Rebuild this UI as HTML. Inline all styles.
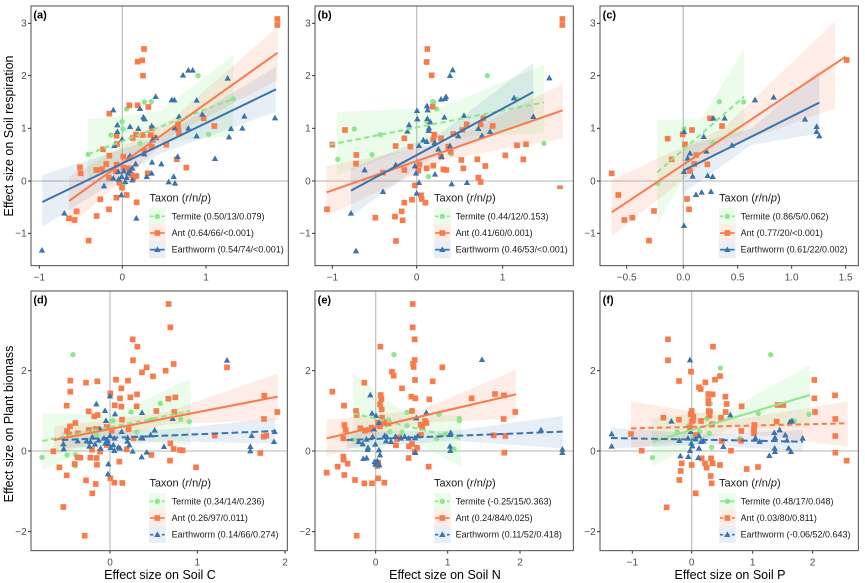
<!DOCTYPE html>
<html><head><meta charset="utf-8"><style>
html,body{margin:0;padding:0;background:#fff;}
svg{display:block;font-family:"Liberation Sans",Arial,sans-serif;}
</style></head><body>
<svg width="865" height="583" viewBox="0 0 865 583" xmlns="http://www.w3.org/2000/svg">
<defs>
<circle id="c" r="8" fill="#8EE68E"/>
<rect id="s" x="-8.5" y="-8.5" width="17" height="17" fill="#F97B4B"/>
<path id="t" d="M0,-10 L9.5,7 L-9.5,7Z" fill="#3A73AD"/>
</defs>
<rect width="865" height="583" fill="#fff"/>

<!-- ===== Panel (a) ===== -->
<g transform="translate(0,0) scale(0.333333)">
<line x1="367" y1="18" x2="367" y2="797" stroke="#C4C4C4" stroke-width="4"/>
<line x1="93" y1="543" x2="865" y2="543" stroke="#C4C4C4" stroke-width="4"/>
<polygon points="263,358 480,335 700,165 700,410 480,425 263,545" fill="#90EE90" fill-opacity="0.18"/>
<polygon points="207,530 520,355 833,80 833,240 520,405 207,680" fill="#F97B4B" fill-opacity="0.14"/>
<polygon points="127,525 478,412 828,200 828,335 478,462 127,680" fill="#3A73AD" fill-opacity="0.12"/>
<g>
<use href="#c" x="264" y="463"/><use href="#c" x="333" y="405"/><use href="#c" x="366" y="365"/><use href="#c" x="369" y="387"/><use href="#c" x="380" y="327"/><use href="#c" x="433" y="306"/><use href="#c" x="454" y="305"/><use href="#c" x="594" y="227"/><use href="#c" x="700" y="297"/><use href="#c" x="626" y="403"/><use href="#c" x="420" y="430"/><use href="#c" x="411" y="530"/><use href="#c" x="373" y="550"/>
</g>
<g>
<use href="#s" x="832" y="57"/><use href="#s" x="832" y="75"/><use href="#s" x="432" y="147"/><use href="#s" x="413" y="185"/><use href="#s" x="427" y="181"/><use href="#s" x="429" y="227"/><use href="#s" x="413" y="316"/><use href="#s" x="388" y="316"/><use href="#s" x="445" y="321"/><use href="#s" x="328" y="341"/><use href="#s" x="611" y="355"/><use href="#s" x="643" y="378"/><use href="#s" x="534" y="373"/><use href="#s" x="535" y="390"/><use href="#s" x="456" y="385"/><use href="#s" x="452" y="405"/><use href="#s" x="428" y="405"/><use href="#s" x="408" y="404"/><use href="#s" x="398" y="414"/><use href="#s" x="350" y="407"/><use href="#s" x="351" y="432"/><use href="#s" x="309" y="448"/><use href="#s" x="328" y="467"/><use href="#s" x="319" y="492"/><use href="#s" x="306" y="508"/><use href="#s" x="240" y="502"/><use href="#s" x="242" y="520"/><use href="#s" x="289" y="510"/><use href="#s" x="327" y="533"/><use href="#s" x="350" y="494"/><use href="#s" x="370" y="503"/><use href="#s" x="386" y="505"/><use href="#s" x="394" y="525"/><use href="#s" x="400" y="534"/><use href="#s" x="409" y="528"/><use href="#s" x="358" y="548"/><use href="#s" x="366" y="563"/><use href="#s" x="380" y="585"/><use href="#s" x="349" y="593"/><use href="#s" x="301" y="598"/><use href="#s" x="327" y="628"/><use href="#s" x="410" y="607"/><use href="#s" x="230" y="634"/><use href="#s" x="207" y="655"/><use href="#s" x="224" y="660"/><use href="#s" x="290" y="648"/><use href="#s" x="266" y="722"/><use href="#s" x="433" y="452"/><use href="#s" x="455" y="440"/><use href="#s" x="443" y="520"/><use href="#s" x="499" y="434"/><use href="#s" x="559" y="503"/><use href="#s" x="530" y="478"/><use href="#s" x="537" y="400"/><use href="#s" x="464" y="413"/><use href="#s" x="348" y="515"/><use href="#s" x="370" y="470"/>
</g>
<g>
<use href="#t" x="126" y="751"/><use href="#t" x="193" y="640"/><use href="#t" x="409" y="655"/><use href="#t" x="340" y="330"/><use href="#t" x="352" y="375"/><use href="#t" x="352" y="395"/><use href="#t" x="366" y="418"/><use href="#t" x="343" y="437"/><use href="#t" x="390" y="380"/><use href="#t" x="415" y="386"/><use href="#t" x="420" y="326"/><use href="#t" x="430" y="352"/><use href="#t" x="434" y="357"/><use href="#t" x="467" y="290"/><use href="#t" x="515" y="300"/><use href="#t" x="523" y="300"/><use href="#t" x="549" y="226"/><use href="#t" x="565" y="211"/><use href="#t" x="578" y="211"/><use href="#t" x="590" y="301"/><use href="#t" x="607" y="343"/><use href="#t" x="683" y="235"/><use href="#t" x="687" y="411"/><use href="#t" x="693" y="386"/><use href="#t" x="727" y="385"/><use href="#t" x="733" y="349"/><use href="#t" x="825" y="354"/><use href="#t" x="645" y="476"/><use href="#t" x="524" y="384"/><use href="#t" x="537" y="350"/><use href="#t" x="456" y="487"/><use href="#t" x="455" y="520"/><use href="#t" x="484" y="492"/><use href="#t" x="506" y="546"/><use href="#t" x="521" y="530"/><use href="#t" x="525" y="550"/><use href="#t" x="533" y="470"/><use href="#t" x="468" y="413"/><use href="#t" x="455" y="378"/><use href="#t" x="407" y="492"/><use href="#t" x="390" y="512"/><use href="#t" x="385" y="475"/><use href="#t" x="371" y="513"/><use href="#t" x="365" y="530"/><use href="#t" x="355" y="515"/><use href="#t" x="356" y="538"/><use href="#t" x="364" y="585"/><use href="#t" x="384" y="520"/><use href="#t" x="397" y="540"/><use href="#t" x="380" y="533"/><use href="#t" x="376" y="545"/><use href="#t" x="397" y="505"/><use href="#t" x="390" y="468"/><use href="#t" x="433" y="462"/><use href="#t" x="457" y="420"/><use href="#t" x="312" y="558"/><use href="#t" x="340" y="535"/><use href="#t" x="440" y="530"/><use href="#t" x="565" y="385"/><use href="#t" x="590" y="408"/>
</g>
<line x1="264" y1="463" x2="700" y2="296" stroke="#8EE68E" stroke-width="6" stroke-dasharray="16,10"/>
<line x1="207" y1="603" x2="833" y2="158" stroke="#F97B4B" stroke-width="6"/>
<line x1="127" y1="606" x2="828" y2="268" stroke="#3A73AD" stroke-width="6"/>
<!-- legend -->
<rect x="440" y="567" width="418" height="213" fill="#fff"/>
<text x="448" y="604" font-size="33" fill="#1a1a1a">Taxon (<tspan font-style="italic">r</tspan>/n/<tspan font-style="italic">p</tspan>)</text>
<rect x="447" y="624" width="50" height="50" fill="#90EE90" fill-opacity="0.18"/>
<rect x="447" y="674" width="50" height="50" fill="#F97B4B" fill-opacity="0.14"/>
<rect x="447" y="724" width="50" height="50" fill="#3A73AD" fill-opacity="0.12"/>
<line x1="450" y1="649" x2="494" y2="649" stroke="#8EE68E" stroke-width="5" stroke-dasharray="10,8"/><use href="#c" x="472" y="649"/>
<line x1="450" y1="699" x2="494" y2="699" stroke="#F97B4B" stroke-width="5"/><use href="#s" x="472" y="699"/>
<line x1="450" y1="749" x2="494" y2="749" stroke="#3A73AD" stroke-width="5"/><use href="#t" x="472" y="749"/>
<text x="515" y="658" font-size="27" fill="#1a1a1a">Termite (0.50/13/0.079)</text>
<text x="515" y="708" font-size="27" fill="#1a1a1a">Ant (0.64/66/&lt;0.001)</text>
<text x="515" y="758" font-size="27" fill="#1a1a1a">Earthworm (0.54/74/&lt;0.001)</text>
<!-- axes -->
<rect x="93" y="18" width="772" height="779" fill="none" stroke="#4d4d4d" stroke-width="3"/>
<g stroke="#333" stroke-width="3">
<line x1="118" y1="797" x2="118" y2="806"/><line x1="367" y1="797" x2="367" y2="806"/><line x1="618" y1="797" x2="618" y2="806"/>
<line x1="84" y1="70" x2="93" y2="70"/><line x1="84" y1="227" x2="93" y2="227"/><line x1="84" y1="385" x2="93" y2="385"/><line x1="84" y1="543" x2="93" y2="543"/><line x1="84" y1="700" x2="93" y2="700"/>
</g>
<g font-size="30" fill="#4D4D4D" text-anchor="middle">
<text x="118" y="841">−1</text><text x="367" y="841">0</text><text x="618" y="841">1</text>
</g>
<g font-size="30" fill="#4D4D4D" text-anchor="end">
<text x="80" y="80">3</text><text x="80" y="237">2</text><text x="80" y="395">1</text><text x="80" y="553">0</text><text x="80" y="710">−1</text>
</g>
<text x="100" y="56" font-size="33" font-weight="bold" fill="#000">(a)</text>
</g>

<!-- ===== Panel (b) ===== -->
<g transform="translate(290,0) scale(0.333333)">
<line x1="380" y1="18" x2="380" y2="797" stroke="#C4C4C4" stroke-width="4"/>
<line x1="75" y1="543" x2="850" y2="543" stroke="#C4C4C4" stroke-width="4"/>
<polygon points="140,336 451,323 762,195 762,400 451,413 140,527" fill="#90EE90" fill-opacity="0.18"/>
<polygon points="110,498 464,429 818,252 818,415 464,479 110,648" fill="#F97B4B" fill-opacity="0.14"/>
<polygon points="183,505 456,396 730,188 730,365 456,452 183,648" fill="#3A73AD" fill-opacity="0.12"/>
<g>
<use href="#c" x="193" y="387"/><use href="#c" x="143" y="478"/><use href="#c" x="246" y="464"/><use href="#c" x="271" y="404"/><use href="#c" x="411" y="365"/><use href="#c" x="428" y="305"/><use href="#c" x="431" y="306"/><use href="#c" x="440" y="327"/><use href="#c" x="592" y="227"/><use href="#c" x="681" y="297"/><use href="#c" x="762" y="430"/><use href="#c" x="415" y="530"/><use href="#c" x="484" y="462"/>
</g>
<g>
<use href="#s" x="817" y="57"/><use href="#s" x="817" y="75"/><use href="#s" x="412" y="147"/><use href="#s" x="410" y="186"/><use href="#s" x="425" y="226"/><use href="#s" x="428" y="320"/><use href="#s" x="433" y="404"/><use href="#s" x="430" y="419"/><use href="#s" x="580" y="355"/><use href="#s" x="572" y="373"/><use href="#s" x="608" y="378"/><use href="#s" x="530" y="373"/><use href="#s" x="165" y="390"/><use href="#s" x="127" y="434"/><use href="#s" x="199" y="465"/><use href="#s" x="198" y="491"/><use href="#s" x="279" y="518"/><use href="#s" x="317" y="438"/><use href="#s" x="343" y="415"/><use href="#s" x="361" y="440"/><use href="#s" x="343" y="510"/><use href="#s" x="388" y="494"/><use href="#s" x="385" y="512"/><use href="#s" x="410" y="505"/><use href="#s" x="430" y="497"/><use href="#s" x="453" y="415"/><use href="#s" x="475" y="440"/><use href="#s" x="460" y="508"/><use href="#s" x="482" y="455"/><use href="#s" x="453" y="470"/><use href="#s" x="490" y="402"/><use href="#s" x="514" y="480"/><use href="#s" x="520" y="505"/><use href="#s" x="562" y="478"/><use href="#s" x="586" y="498"/><use href="#s" x="565" y="533"/><use href="#s" x="572" y="546"/><use href="#s" x="646" y="466"/><use href="#s" x="681" y="436"/><use href="#s" x="708" y="433"/><use href="#s" x="700" y="478"/><use href="#s" x="810" y="565"/><use href="#s" x="111" y="628"/><use href="#s" x="256" y="653"/><use href="#s" x="315" y="650"/><use href="#s" x="335" y="634"/><use href="#s" x="338" y="661"/><use href="#s" x="343" y="608"/><use href="#s" x="366" y="599"/><use href="#s" x="393" y="586"/><use href="#s" x="395" y="597"/><use href="#s" x="406" y="608"/><use href="#s" x="375" y="556"/><use href="#s" x="318" y="723"/><use href="#s" x="469" y="510"/><use href="#s" x="517" y="390"/>
</g>
<g>
<use href="#t" x="198" y="753"/><use href="#t" x="183" y="640"/><use href="#t" x="224" y="510"/><use href="#t" x="279" y="575"/><use href="#t" x="317" y="495"/><use href="#t" x="357" y="375"/><use href="#t" x="352" y="394"/><use href="#t" x="381" y="332"/><use href="#t" x="382" y="357"/><use href="#t" x="411" y="318"/><use href="#t" x="413" y="330"/><use href="#t" x="412" y="356"/><use href="#t" x="417" y="384"/><use href="#t" x="421" y="366"/><use href="#t" x="416" y="392"/><use href="#t" x="410" y="425"/><use href="#t" x="387" y="437"/><use href="#t" x="400" y="420"/><use href="#t" x="434" y="428"/><use href="#t" x="445" y="448"/><use href="#t" x="463" y="352"/><use href="#t" x="468" y="290"/><use href="#t" x="465" y="296"/><use href="#t" x="480" y="227"/><use href="#t" x="488" y="210"/><use href="#t" x="453" y="298"/><use href="#t" x="522" y="347"/><use href="#t" x="505" y="408"/><use href="#t" x="565" y="386"/><use href="#t" x="576" y="407"/><use href="#t" x="600" y="395"/><use href="#t" x="672" y="294"/><use href="#t" x="730" y="350"/><use href="#t" x="778" y="234"/><use href="#t" x="485" y="552"/><use href="#t" x="531" y="548"/><use href="#t" x="480" y="438"/><use href="#t" x="380" y="580"/><use href="#t" x="387" y="548"/><use href="#t" x="378" y="520"/><use href="#t" x="375" y="498"/><use href="#t" x="435" y="523"/><use href="#t" x="455" y="470"/>
</g>
<line x1="120" y1="434" x2="762" y2="307" stroke="#8EE68E" stroke-width="6" stroke-dasharray="16,10"/>
<line x1="110" y1="577" x2="818" y2="331" stroke="#F97B4B" stroke-width="6"/>
<line x1="183" y1="572" x2="730" y2="276" stroke="#3A73AD" stroke-width="6"/>
<rect x="424" y="567" width="424" height="213" fill="#fff"/>
<text x="432" y="604" font-size="33" fill="#1a1a1a">Taxon (<tspan font-style="italic">r</tspan>/n/<tspan font-style="italic">p</tspan>)</text>
<rect x="432" y="624" width="50" height="50" fill="#90EE90" fill-opacity="0.18"/>
<rect x="432" y="674" width="50" height="50" fill="#F97B4B" fill-opacity="0.14"/>
<rect x="432" y="724" width="50" height="50" fill="#3A73AD" fill-opacity="0.12"/>
<line x1="435" y1="649" x2="479" y2="649" stroke="#8EE68E" stroke-width="5" stroke-dasharray="10,8"/><use href="#c" x="457" y="649"/>
<line x1="435" y1="699" x2="479" y2="699" stroke="#F97B4B" stroke-width="5"/><use href="#s" x="457" y="699"/>
<line x1="435" y1="749" x2="479" y2="749" stroke="#3A73AD" stroke-width="5"/><use href="#t" x="457" y="749"/>
<text x="497" y="658" font-size="27" fill="#1a1a1a">Termite (0.44/12/0.153)</text>
<text x="497" y="708" font-size="27" fill="#1a1a1a">Ant (0.41/60/0.001)</text>
<text x="497" y="758" font-size="27" fill="#1a1a1a">Earthworm (0.46/53/&lt;0.001)</text>
<rect x="75" y="18" width="775" height="779" fill="none" stroke="#4d4d4d" stroke-width="3"/>
<g stroke="#333" stroke-width="3">
<line x1="127" y1="797" x2="127" y2="806"/><line x1="380" y1="797" x2="380" y2="806"/><line x1="638" y1="797" x2="638" y2="806"/>
<line x1="66" y1="70" x2="75" y2="70"/><line x1="66" y1="227" x2="75" y2="227"/><line x1="66" y1="385" x2="75" y2="385"/><line x1="66" y1="543" x2="75" y2="543"/><line x1="66" y1="700" x2="75" y2="700"/>
</g>
<g font-size="30" fill="#4D4D4D" text-anchor="middle">
<text x="127" y="841">−1</text><text x="380" y="841">0</text><text x="638" y="841">1</text>
</g>
<g font-size="30" fill="#4D4D4D" text-anchor="end">
<text x="62" y="80">3</text><text x="62" y="237">2</text><text x="62" y="395">1</text><text x="62" y="553">0</text><text x="62" y="710">−1</text>
</g>
<text x="83" y="56" font-size="33" font-weight="bold" fill="#000">(b)</text>
</g>

<!-- ===== Panel (c) ===== -->
<g transform="translate(575,0) scale(0.333333)">
<line x1="325" y1="18" x2="325" y2="797" stroke="#C4C4C4" stroke-width="4"/>
<line x1="75" y1="543" x2="850" y2="543" stroke="#C4C4C4" stroke-width="4"/>
<polygon points="247,360 377,358 507,148 507,400 377,448 247,670" fill="#90EE90" fill-opacity="0.18"/>
<polygon points="110,540 445,384 780,65 780,325 445,444 110,708" fill="#F97B4B" fill-opacity="0.14"/>
<polygon points="325,440 529,385 733,212 733,400 529,435 325,580" fill="#3A73AD" fill-opacity="0.12"/>
<g>
<use href="#c" x="248" y="550"/><use href="#c" x="327" y="386"/><use href="#c" x="414" y="428"/><use href="#c" x="433" y="305"/><use href="#c" x="506" y="306"/>
</g>
<g>
<use href="#s" x="110" y="520"/><use href="#s" x="130" y="585"/><use href="#s" x="148" y="660"/><use href="#s" x="172" y="653"/><use href="#s" x="222" y="722"/><use href="#s" x="237" y="633"/><use href="#s" x="278" y="416"/><use href="#s" x="290" y="478"/><use href="#s" x="323" y="403"/><use href="#s" x="330" y="433"/><use href="#s" x="351" y="390"/><use href="#s" x="336" y="597"/><use href="#s" x="342" y="628"/><use href="#s" x="345" y="513"/><use href="#s" x="358" y="492"/><use href="#s" x="364" y="465"/><use href="#s" x="405" y="355"/><use href="#s" x="441" y="378"/><use href="#s" x="397" y="493"/><use href="#s" x="815" y="180"/>
</g>
<g>
<use href="#t" x="327" y="677"/><use href="#t" x="327" y="395"/><use href="#t" x="327" y="515"/><use href="#t" x="345" y="460"/><use href="#t" x="353" y="529"/><use href="#t" x="363" y="584"/><use href="#t" x="380" y="577"/><use href="#t" x="386" y="410"/><use href="#t" x="394" y="454"/><use href="#t" x="398" y="527"/><use href="#t" x="408" y="575"/><use href="#t" x="413" y="530"/><use href="#t" x="415" y="355"/><use href="#t" x="449" y="355"/><use href="#t" x="471" y="436"/><use href="#t" x="540" y="300"/><use href="#t" x="596" y="292"/><use href="#t" x="690" y="358"/><use href="#t" x="725" y="380"/><use href="#t" x="725" y="395"/><use href="#t" x="733" y="408"/><use href="#t" x="338" y="475"/>
</g>
<line x1="247" y1="517" x2="507" y2="290" stroke="#8EE68E" stroke-width="6" stroke-dasharray="16,10"/>
<line x1="110" y1="637" x2="812" y2="170" stroke="#F97B4B" stroke-width="6"/>
<line x1="325" y1="512" x2="733" y2="308" stroke="#3A73AD" stroke-width="6"/>
<rect x="424" y="567" width="424" height="213" fill="#fff"/>
<text x="432" y="604" font-size="33" fill="#1a1a1a">Taxon (<tspan font-style="italic">r</tspan>/n/<tspan font-style="italic">p</tspan>)</text>
<rect x="432" y="624" width="50" height="50" fill="#90EE90" fill-opacity="0.18"/>
<rect x="432" y="674" width="50" height="50" fill="#F97B4B" fill-opacity="0.14"/>
<rect x="432" y="724" width="50" height="50" fill="#3A73AD" fill-opacity="0.12"/>
<line x1="435" y1="649" x2="479" y2="649" stroke="#8EE68E" stroke-width="5" stroke-dasharray="10,8"/><use href="#c" x="457" y="649"/>
<line x1="435" y1="699" x2="479" y2="699" stroke="#F97B4B" stroke-width="5"/><use href="#s" x="457" y="699"/>
<line x1="435" y1="749" x2="479" y2="749" stroke="#3A73AD" stroke-width="5"/><use href="#t" x="457" y="749"/>
<text x="497" y="658" font-size="27" fill="#1a1a1a">Termite (0.86/5/0.062)</text>
<text x="497" y="708" font-size="27" fill="#1a1a1a">Ant (0.77/20/&lt;0.001)</text>
<text x="497" y="758" font-size="27" fill="#1a1a1a">Earthworm (0.61/22/0.002)</text>
<rect x="75" y="18" width="775" height="779" fill="none" stroke="#4d4d4d" stroke-width="3"/>
<g stroke="#333" stroke-width="3">
<line x1="155" y1="797" x2="155" y2="806"/><line x1="325" y1="797" x2="325" y2="806"/><line x1="488" y1="797" x2="488" y2="806"/><line x1="650" y1="797" x2="650" y2="806"/><line x1="812" y1="797" x2="812" y2="806"/>
<line x1="66" y1="70" x2="75" y2="70"/><line x1="66" y1="227" x2="75" y2="227"/><line x1="66" y1="385" x2="75" y2="385"/><line x1="66" y1="543" x2="75" y2="543"/><line x1="66" y1="700" x2="75" y2="700"/>
</g>
<g font-size="30" fill="#4D4D4D" text-anchor="middle">
<text x="155" y="841">−0.5</text><text x="325" y="841">0.0</text><text x="488" y="841">0.5</text><text x="650" y="841">1.0</text><text x="812" y="841">1.5</text>
</g>
<g font-size="30" fill="#4D4D4D" text-anchor="end">
<text x="62" y="80">3</text><text x="62" y="237">2</text><text x="62" y="395">1</text><text x="62" y="553">0</text><text x="62" y="710">−1</text>
</g>
<text x="83" y="56" font-size="33" font-weight="bold" fill="#000">(c)</text>
</g>

<!-- ===== Panel (d) ===== -->
<g transform="translate(0,285) scale(0.333333)">
<line x1="330" y1="18" x2="330" y2="797" stroke="#C4C4C4" stroke-width="4"/>
<line x1="93" y1="498" x2="862" y2="498" stroke="#C4C4C4" stroke-width="4"/>
<polygon points="127,385 348,388 570,280 570,480 348,458 127,555" fill="#90EE90" fill-opacity="0.18"/>
<polygon points="162,425 497,382 833,265 833,405 497,418 162,508" fill="#F97B4B" fill-opacity="0.14"/>
<polygon points="185,440 505,433 825,400 825,475 505,469 185,490" fill="#3A73AD" fill-opacity="0.12"/>
<g>
<use href="#c" x="219" y="209"/><use href="#c" x="481" y="355"/><use href="#c" x="393" y="381"/><use href="#c" x="455" y="404"/><use href="#c" x="542" y="403"/><use href="#c" x="568" y="410"/><use href="#c" x="339" y="407"/><use href="#c" x="282" y="430"/><use href="#c" x="410" y="441"/><use href="#c" x="201" y="510"/><use href="#c" x="226" y="509"/><use href="#c" x="226" y="543"/><use href="#c" x="126" y="517"/><use href="#c" x="290" y="450"/>
</g>
<g>
<use href="#s" x="506" y="57"/><use href="#s" x="511" y="127"/><use href="#s" x="398" y="163"/><use href="#s" x="412" y="185"/><use href="#s" x="399" y="226"/><use href="#s" x="440" y="247"/><use href="#s" x="426" y="262"/><use href="#s" x="459" y="274"/><use href="#s" x="521" y="237"/><use href="#s" x="497" y="257"/><use href="#s" x="681" y="247"/><use href="#s" x="211" y="287"/><use href="#s" x="211" y="320"/><use href="#s" x="258" y="293"/><use href="#s" x="292" y="289"/><use href="#s" x="331" y="325"/><use href="#s" x="348" y="284"/><use href="#s" x="364" y="310"/><use href="#s" x="384" y="287"/><use href="#s" x="411" y="328"/><use href="#s" x="391" y="337"/><use href="#s" x="360" y="340"/><use href="#s" x="364" y="365"/><use href="#s" x="344" y="361"/><use href="#s" x="410" y="364"/><use href="#s" x="469" y="378"/><use href="#s" x="505" y="341"/><use href="#s" x="526" y="337"/><use href="#s" x="523" y="381"/><use href="#s" x="793" y="332"/><use href="#s" x="792" y="402"/><use href="#s" x="832" y="381"/><use href="#s" x="799" y="452"/><use href="#s" x="791" y="455"/><use href="#s" x="644" y="452"/><use href="#s" x="781" y="504"/><use href="#s" x="200" y="362"/><use href="#s" x="210" y="424"/><use href="#s" x="226" y="414"/><use href="#s" x="201" y="438"/><use href="#s" x="208" y="448"/><use href="#s" x="234" y="445"/><use href="#s" x="266" y="379"/><use href="#s" x="283" y="394"/><use href="#s" x="293" y="390"/><use href="#s" x="266" y="435"/><use href="#s" x="289" y="432"/><use href="#s" x="320" y="426"/><use href="#s" x="335" y="437"/><use href="#s" x="366" y="404"/><use href="#s" x="386" y="432"/><use href="#s" x="401" y="460"/><use href="#s" x="320" y="480"/><use href="#s" x="160" y="499"/><use href="#s" x="178" y="547"/><use href="#s" x="200" y="571"/><use href="#s" x="233" y="517"/><use href="#s" x="241" y="518"/><use href="#s" x="271" y="518"/><use href="#s" x="276" y="494"/><use href="#s" x="290" y="519"/><use href="#s" x="291" y="539"/><use href="#s" x="287" y="597"/><use href="#s" x="258" y="586"/><use href="#s" x="277" y="625"/><use href="#s" x="254" y="752"/><use href="#s" x="190" y="666"/><use href="#s" x="331" y="580"/><use href="#s" x="343" y="593"/><use href="#s" x="367" y="594"/><use href="#s" x="358" y="530"/><use href="#s" x="380" y="493"/><use href="#s" x="454" y="510"/><use href="#s" x="511" y="475"/><use href="#s" x="521" y="492"/><use href="#s" x="540" y="495"/><use href="#s" x="510" y="527"/><use href="#s" x="588" y="547"/><use href="#s" x="548" y="496"/><use href="#s" x="224" y="537"/><use href="#s" x="300" y="500"/>
</g>
<g>
<use href="#t" x="681" y="226"/><use href="#t" x="330" y="333"/><use href="#t" x="289" y="357"/><use href="#t" x="315" y="377"/><use href="#t" x="345" y="387"/><use href="#t" x="318" y="407"/><use href="#t" x="300" y="432"/><use href="#t" x="322" y="465"/><use href="#t" x="330" y="452"/><use href="#t" x="343" y="460"/><use href="#t" x="365" y="440"/><use href="#t" x="383" y="458"/><use href="#t" x="382" y="469"/><use href="#t" x="388" y="480"/><use href="#t" x="340" y="480"/><use href="#t" x="332" y="488"/><use href="#t" x="325" y="476"/><use href="#t" x="302" y="490"/><use href="#t" x="285" y="478"/><use href="#t" x="271" y="470"/><use href="#t" x="296" y="466"/><use href="#t" x="312" y="460"/><use href="#t" x="316" y="475"/><use href="#t" x="190" y="477"/><use href="#t" x="191" y="492"/><use href="#t" x="260" y="468"/><use href="#t" x="277" y="456"/><use href="#t" x="360" y="490"/><use href="#t" x="398" y="499"/><use href="#t" x="426" y="383"/><use href="#t" x="423" y="459"/><use href="#t" x="425" y="516"/><use href="#t" x="440" y="502"/><use href="#t" x="452" y="450"/><use href="#t" x="464" y="436"/><use href="#t" x="492" y="485"/><use href="#t" x="518" y="401"/><use href="#t" x="755" y="452"/><use href="#t" x="751" y="485"/><use href="#t" x="751" y="498"/><use href="#t" x="824" y="440"/><use href="#t" x="822" y="470"/><use href="#t" x="324" y="567"/><use href="#t" x="325" y="537"/><use href="#t" x="428" y="460"/><use href="#t" x="355" y="487"/><use href="#t" x="343" y="497"/><use href="#t" x="268" y="484"/><use href="#t" x="233" y="468"/>
</g>
<line x1="127" y1="468" x2="570" y2="378" stroke="#8EE68E" stroke-width="6" stroke-dasharray="16,10"/>
<line x1="162" y1="465" x2="833" y2="335" stroke="#F97B4B" stroke-width="6"/>
<line x1="185" y1="465" x2="825" y2="438" stroke="#3A73AD" stroke-width="6" stroke-dasharray="20,10"/>
<rect x="440" y="567" width="418" height="213" fill="#fff"/>
<text x="448" y="604" font-size="33" fill="#1a1a1a">Taxon (<tspan font-style="italic">r</tspan>/n/<tspan font-style="italic">p</tspan>)</text>
<rect x="447" y="624" width="50" height="50" fill="#90EE90" fill-opacity="0.18"/>
<rect x="447" y="674" width="50" height="50" fill="#F97B4B" fill-opacity="0.14"/>
<rect x="447" y="724" width="50" height="50" fill="#3A73AD" fill-opacity="0.12"/>
<line x1="450" y1="649" x2="494" y2="649" stroke="#8EE68E" stroke-width="5" stroke-dasharray="10,8"/><use href="#c" x="472" y="649"/>
<line x1="450" y1="699" x2="494" y2="699" stroke="#F97B4B" stroke-width="5"/><use href="#s" x="472" y="699"/>
<line x1="450" y1="749" x2="494" y2="749" stroke="#3A73AD" stroke-width="5" stroke-dasharray="10,8"/><use href="#t" x="472" y="749"/>
<text x="515" y="658" font-size="27" fill="#1a1a1a">Termite (0.34/14/0.236)</text>
<text x="515" y="708" font-size="27" fill="#1a1a1a">Ant (0.26/97/0.011)</text>
<text x="515" y="758" font-size="27" fill="#1a1a1a">Earthworm (0.14/66/0.274)</text>
<rect x="93" y="18" width="769" height="779" fill="none" stroke="#4d4d4d" stroke-width="3"/>
<g stroke="#333" stroke-width="3">
<line x1="330" y1="797" x2="330" y2="806"/><line x1="592" y1="797" x2="592" y2="806"/><line x1="855" y1="797" x2="855" y2="806"/>
<line x1="84" y1="257" x2="93" y2="257"/><line x1="84" y1="498" x2="93" y2="498"/><line x1="84" y1="740" x2="93" y2="740"/>
</g>
<g font-size="30" fill="#4D4D4D" text-anchor="middle">
<text x="330" y="841">0</text><text x="592" y="841">1</text><text x="855" y="841">2</text>
</g>
<g font-size="30" fill="#4D4D4D" text-anchor="end">
<text x="80" y="267">2</text><text x="80" y="508">0</text><text x="80" y="750">−2</text>
</g>
<text x="100" y="56" font-size="33" font-weight="bold" fill="#000">(d)</text>
</g>

<!-- ===== Panel (e) ===== -->
<g transform="translate(290,285) scale(0.333333)">
<line x1="257" y1="18" x2="257" y2="797" stroke="#C4C4C4" stroke-width="4"/>
<line x1="75" y1="498" x2="850" y2="498" stroke="#C4C4C4" stroke-width="4"/>
<polygon points="190,265 351,388 513,393 513,545 351,458 190,505" fill="#90EE90" fill-opacity="0.18"/>
<polygon points="110,405 394,374 678,255 678,400 394,414 110,515" fill="#F97B4B" fill-opacity="0.14"/>
<polygon points="170,440 494,437 818,393 818,490 494,467 170,490" fill="#3A73AD" fill-opacity="0.12"/>
<g>
<use href="#c" x="312" y="209"/><use href="#c" x="351" y="382"/><use href="#c" x="447" y="388"/><use href="#c" x="508" y="400"/><use href="#c" x="508" y="407"/><use href="#c" x="295" y="405"/><use href="#c" x="280" y="414"/><use href="#c" x="289" y="420"/><use href="#c" x="351" y="422"/><use href="#c" x="300" y="440"/><use href="#c" x="336" y="441"/><use href="#c" x="318" y="458"/><use href="#c" x="440" y="460"/><use href="#c" x="466" y="447"/><use href="#c" x="189" y="464"/><use href="#c" x="492" y="492"/>
</g>
<g>
<use href="#s" x="368" y="57"/><use href="#s" x="368" y="127"/><use href="#s" x="374" y="163"/><use href="#s" x="271" y="185"/><use href="#s" x="374" y="225"/><use href="#s" x="369" y="236"/><use href="#s" x="371" y="246"/><use href="#s" x="457" y="247"/><use href="#s" x="306" y="260"/><use href="#s" x="311" y="272"/><use href="#s" x="375" y="285"/><use href="#s" x="428" y="289"/><use href="#s" x="223" y="293"/><use href="#s" x="127" y="320"/><use href="#s" x="162" y="362"/><use href="#s" x="272" y="330"/><use href="#s" x="274" y="342"/><use href="#s" x="336" y="310"/><use href="#s" x="364" y="335"/><use href="#s" x="376" y="340"/><use href="#s" x="418" y="343"/><use href="#s" x="366" y="378"/><use href="#s" x="198" y="378"/><use href="#s" x="200" y="390"/><use href="#s" x="270" y="358"/><use href="#s" x="275" y="373"/><use href="#s" x="545" y="340"/><use href="#s" x="615" y="327"/><use href="#s" x="642" y="331"/><use href="#s" x="676" y="381"/><use href="#s" x="641" y="402"/><use href="#s" x="643" y="503"/><use href="#s" x="611" y="451"/><use href="#s" x="646" y="453"/><use href="#s" x="409" y="414"/><use href="#s" x="405" y="408"/><use href="#s" x="392" y="419"/><use href="#s" x="397" y="428"/><use href="#s" x="393" y="450"/><use href="#s" x="281" y="412"/><use href="#s" x="276" y="398"/><use href="#s" x="296" y="415"/><use href="#s" x="270" y="424"/><use href="#s" x="265" y="413"/><use href="#s" x="245" y="428"/><use href="#s" x="237" y="434"/><use href="#s" x="225" y="437"/><use href="#s" x="211" y="430"/><use href="#s" x="163" y="420"/><use href="#s" x="167" y="435"/><use href="#s" x="160" y="460"/><use href="#s" x="321" y="462"/><use href="#s" x="328" y="457"/><use href="#s" x="356" y="519"/><use href="#s" x="366" y="477"/><use href="#s" x="374" y="500"/><use href="#s" x="357" y="484"/><use href="#s" x="381" y="488"/><use href="#s" x="318" y="481"/><use href="#s" x="160" y="515"/><use href="#s" x="161" y="524"/><use href="#s" x="173" y="536"/><use href="#s" x="143" y="545"/><use href="#s" x="110" y="563"/><use href="#s" x="163" y="570"/><use href="#s" x="195" y="585"/><use href="#s" x="223" y="595"/><use href="#s" x="246" y="595"/><use href="#s" x="264" y="580"/><use href="#s" x="283" y="593"/><use href="#s" x="416" y="545"/><use href="#s" x="262" y="543"/><use href="#s" x="265" y="533"/><use href="#s" x="200" y="752"/>
</g>
<g>
<use href="#t" x="576" y="224"/><use href="#t" x="241" y="330"/><use href="#t" x="246" y="385"/><use href="#t" x="258" y="392"/><use href="#t" x="267" y="413"/><use href="#t" x="252" y="432"/><use href="#t" x="248" y="455"/><use href="#t" x="229" y="463"/><use href="#t" x="218" y="477"/><use href="#t" x="233" y="494"/><use href="#t" x="256" y="478"/><use href="#t" x="284" y="452"/><use href="#t" x="288" y="468"/><use href="#t" x="290" y="455"/><use href="#t" x="316" y="455"/><use href="#t" x="344" y="455"/><use href="#t" x="333" y="460"/><use href="#t" x="356" y="460"/><use href="#t" x="375" y="459"/><use href="#t" x="379" y="399"/><use href="#t" x="409" y="383"/><use href="#t" x="482" y="443"/><use href="#t" x="376" y="503"/><use href="#t" x="234" y="488"/><use href="#t" x="220" y="521"/><use href="#t" x="230" y="519"/><use href="#t" x="270" y="510"/><use href="#t" x="262" y="528"/><use href="#t" x="254" y="530"/><use href="#t" x="256" y="538"/><use href="#t" x="268" y="540"/><use href="#t" x="480" y="484"/><use href="#t" x="481" y="497"/><use href="#t" x="753" y="435"/><use href="#t" x="817" y="493"/><use href="#t" x="817" y="503"/><use href="#t" x="383" y="453"/><use href="#t" x="206" y="470"/><use href="#t" x="267" y="495"/><use href="#t" x="303" y="470"/>
</g>
<line x1="190" y1="385" x2="513" y2="462" stroke="#8EE68E" stroke-width="6" stroke-dasharray="16,10"/>
<line x1="110" y1="460" x2="678" y2="328" stroke="#F97B4B" stroke-width="6"/>
<line x1="170" y1="465" x2="818" y2="440" stroke="#3A73AD" stroke-width="6" stroke-dasharray="20,10"/>
<rect x="424" y="567" width="424" height="213" fill="#fff"/>
<text x="432" y="604" font-size="33" fill="#1a1a1a">Taxon (<tspan font-style="italic">r</tspan>/n/<tspan font-style="italic">p</tspan>)</text>
<rect x="432" y="624" width="50" height="50" fill="#90EE90" fill-opacity="0.18"/>
<rect x="432" y="674" width="50" height="50" fill="#F97B4B" fill-opacity="0.14"/>
<rect x="432" y="724" width="50" height="50" fill="#3A73AD" fill-opacity="0.12"/>
<line x1="435" y1="649" x2="479" y2="649" stroke="#8EE68E" stroke-width="5" stroke-dasharray="10,8"/><use href="#c" x="457" y="649"/>
<line x1="435" y1="699" x2="479" y2="699" stroke="#F97B4B" stroke-width="5"/><use href="#s" x="457" y="699"/>
<line x1="435" y1="749" x2="479" y2="749" stroke="#3A73AD" stroke-width="5" stroke-dasharray="10,8"/><use href="#t" x="457" y="749"/>
<text x="497" y="658" font-size="27" fill="#1a1a1a">Termite (-0.25/15/0.363)</text>
<text x="497" y="708" font-size="27" fill="#1a1a1a">Ant (0.24/84/0.025)</text>
<text x="497" y="758" font-size="27" fill="#1a1a1a">Earthworm (0.11/52/0.418)</text>
<rect x="75" y="18" width="775" height="779" fill="none" stroke="#4d4d4d" stroke-width="3"/>
<g stroke="#333" stroke-width="3">
<line x1="257" y1="797" x2="257" y2="806"/><line x1="473" y1="797" x2="473" y2="806"/><line x1="690" y1="797" x2="690" y2="806"/>
<line x1="66" y1="257" x2="75" y2="257"/><line x1="66" y1="498" x2="75" y2="498"/><line x1="66" y1="740" x2="75" y2="740"/>
</g>
<g font-size="30" fill="#4D4D4D" text-anchor="middle">
<text x="257" y="841">0</text><text x="473" y="841">1</text><text x="690" y="841">2</text>
</g>
<g font-size="30" fill="#4D4D4D" text-anchor="end">
<text x="62" y="267">2</text><text x="62" y="508">0</text><text x="62" y="750">−2</text>
</g>
<text x="83" y="56" font-size="33" font-weight="bold" fill="#000">(e)</text>
</g>

<!-- ===== Panel (f) ===== -->
<g transform="translate(575,285) scale(0.333333)">
<line x1="350" y1="18" x2="350" y2="797" stroke="#C4C4C4" stroke-width="4"/>
<line x1="75" y1="498" x2="850" y2="498" stroke="#C4C4C4" stroke-width="4"/>
<polygon points="232,400 468,372 705,240 705,430 468,428 232,543" fill="#90EE90" fill-opacity="0.18"/>
<polygon points="168,350 493,402 818,350 818,485 493,442 168,490" fill="#F97B4B" fill-opacity="0.14"/>
<polygon points="108,428 396,449 684,435 684,500 396,479 108,490" fill="#3A73AD" fill-opacity="0.12"/>
<g>
<use href="#c" x="587" y="209"/><use href="#c" x="436" y="249"/><use href="#c" x="406" y="356"/><use href="#c" x="395" y="401"/><use href="#c" x="307" y="441"/><use href="#c" x="341" y="422"/><use href="#c" x="374" y="440"/><use href="#c" x="403" y="445"/><use href="#c" x="410" y="487"/><use href="#c" x="495" y="460"/><use href="#c" x="550" y="385"/><use href="#c" x="658" y="408"/><use href="#c" x="702" y="388"/><use href="#c" x="232" y="518"/><use href="#c" x="354" y="452"/>
</g>
<g>
<use href="#s" x="279" y="163"/><use href="#s" x="279" y="226"/><use href="#s" x="414" y="185"/><use href="#s" x="348" y="260"/><use href="#s" x="312" y="288"/><use href="#s" x="391" y="292"/><use href="#s" x="372" y="307"/><use href="#s" x="377" y="312"/><use href="#s" x="420" y="284"/><use href="#s" x="435" y="273"/><use href="#s" x="451" y="335"/><use href="#s" x="455" y="357"/><use href="#s" x="400" y="327"/><use href="#s" x="413" y="328"/><use href="#s" x="400" y="345"/><use href="#s" x="400" y="355"/><use href="#s" x="401" y="378"/><use href="#s" x="405" y="380"/><use href="#s" x="403" y="392"/><use href="#s" x="350" y="378"/><use href="#s" x="347" y="388"/><use href="#s" x="355" y="395"/><use href="#s" x="350" y="410"/><use href="#s" x="354" y="406"/><use href="#s" x="378" y="408"/><use href="#s" x="411" y="418"/><use href="#s" x="438" y="398"/><use href="#s" x="452" y="381"/><use href="#s" x="500" y="364"/><use href="#s" x="499" y="438"/><use href="#s" x="538" y="420"/><use href="#s" x="537" y="432"/><use href="#s" x="537" y="445"/><use href="#s" x="605" y="410"/><use href="#s" x="608" y="360"/><use href="#s" x="625" y="360"/><use href="#s" x="718" y="285"/><use href="#s" x="718" y="340"/><use href="#s" x="720" y="381"/><use href="#s" x="780" y="331"/><use href="#s" x="781" y="402"/><use href="#s" x="781" y="453"/><use href="#s" x="781" y="503"/><use href="#s" x="815" y="527"/><use href="#s" x="265" y="398"/><use href="#s" x="312" y="404"/><use href="#s" x="168" y="447"/><use href="#s" x="200" y="497"/><use href="#s" x="317" y="558"/><use href="#s" x="313" y="585"/><use href="#s" x="362" y="625"/><use href="#s" x="275" y="667"/><use href="#s" x="408" y="520"/><use href="#s" x="413" y="535"/><use href="#s" x="380" y="520"/><use href="#s" x="390" y="535"/><use href="#s" x="395" y="548"/><use href="#s" x="407" y="573"/><use href="#s" x="435" y="540"/><use href="#s" x="440" y="468"/><use href="#s" x="468" y="497"/><use href="#s" x="515" y="552"/><use href="#s" x="549" y="546"/><use href="#s" x="498" y="467"/><use href="#s" x="345" y="428"/><use href="#s" x="363" y="450"/><use href="#s" x="320" y="535"/><use href="#s" x="350" y="540"/><use href="#s" x="410" y="595"/>
</g>
<g>
<use href="#t" x="345" y="225"/><use href="#t" x="289" y="409"/><use href="#t" x="110" y="447"/><use href="#t" x="110" y="484"/><use href="#t" x="313" y="467"/><use href="#t" x="339" y="460"/><use href="#t" x="347" y="440"/><use href="#t" x="349" y="475"/><use href="#t" x="345" y="497"/><use href="#t" x="362" y="462"/><use href="#t" x="372" y="453"/><use href="#t" x="378" y="470"/><use href="#t" x="352" y="483"/><use href="#t" x="372" y="490"/><use href="#t" x="385" y="468"/><use href="#t" x="340" y="515"/><use href="#t" x="370" y="518"/><use href="#t" x="316" y="513"/><use href="#t" x="445" y="485"/><use href="#t" x="466" y="390"/><use href="#t" x="541" y="459"/><use href="#t" x="554" y="470"/><use href="#t" x="583" y="512"/><use href="#t" x="598" y="443"/><use href="#t" x="600" y="458"/><use href="#t" x="599" y="490"/><use href="#t" x="614" y="435"/><use href="#t" x="631" y="450"/><use href="#t" x="636" y="466"/><use href="#t" x="641" y="490"/><use href="#t" x="648" y="500"/><use href="#t" x="645" y="410"/><use href="#t" x="683" y="460"/><use href="#t" x="651" y="408"/><use href="#t" x="600" y="500"/>
</g>
<line x1="232" y1="470" x2="705" y2="330" stroke="#8EE68E" stroke-width="6"/>
<line x1="168" y1="430" x2="818" y2="415" stroke="#F97B4B" stroke-width="6" stroke-dasharray="16,10"/>
<line x1="108" y1="459" x2="684" y2="470" stroke="#3A73AD" stroke-width="6" stroke-dasharray="20,10"/>
<rect x="424" y="567" width="424" height="213" fill="#fff"/>
<text x="432" y="604" font-size="33" fill="#1a1a1a">Taxon (<tspan font-style="italic">r</tspan>/n/<tspan font-style="italic">p</tspan>)</text>
<rect x="432" y="624" width="50" height="50" fill="#90EE90" fill-opacity="0.18"/>
<rect x="432" y="674" width="50" height="50" fill="#F97B4B" fill-opacity="0.14"/>
<rect x="432" y="724" width="50" height="50" fill="#3A73AD" fill-opacity="0.12"/>
<line x1="435" y1="649" x2="479" y2="649" stroke="#8EE68E" stroke-width="5"/><use href="#c" x="457" y="649"/>
<line x1="435" y1="699" x2="479" y2="699" stroke="#F97B4B" stroke-width="5" stroke-dasharray="10,8"/><use href="#s" x="457" y="699"/>
<line x1="435" y1="749" x2="479" y2="749" stroke="#3A73AD" stroke-width="5" stroke-dasharray="10,8"/><use href="#t" x="457" y="749"/>
<text x="497" y="658" font-size="27" fill="#1a1a1a">Termite (0.48/17/0.048)</text>
<text x="497" y="708" font-size="27" fill="#1a1a1a">Ant (0.03/80/0.811)</text>
<text x="497" y="758" font-size="27" fill="#1a1a1a">Earthworm (-0.06/52/0.643)</text>
<rect x="75" y="18" width="775" height="779" fill="none" stroke="#4d4d4d" stroke-width="3"/>
<g stroke="#333" stroke-width="3">
<line x1="172" y1="797" x2="172" y2="806"/><line x1="350" y1="797" x2="350" y2="806"/><line x1="533" y1="797" x2="533" y2="806"/><line x1="713" y1="797" x2="713" y2="806"/>
<line x1="66" y1="257" x2="75" y2="257"/><line x1="66" y1="498" x2="75" y2="498"/><line x1="66" y1="740" x2="75" y2="740"/>
</g>
<g font-size="30" fill="#4D4D4D" text-anchor="middle">
<text x="172" y="841">−1</text><text x="350" y="841">0</text><text x="533" y="841">1</text><text x="713" y="841">2</text>
</g>
<g font-size="30" fill="#4D4D4D" text-anchor="end">
<text x="62" y="267">2</text><text x="62" y="508">0</text><text x="62" y="750">−2</text>
</g>
<text x="83" y="56" font-size="33" font-weight="bold" fill="#000">(f)</text>
</g>

<!-- axis titles -->
<g font-size="12.5" fill="#000" text-anchor="middle">
<text x="160" y="579">Effect size on Soil C</text>
<text x="445" y="579">Effect size on Soil N</text>
<text x="730" y="579">Effect size on Soil P</text>
<text transform="translate(13,136) rotate(-90)">Effect size on Soil respiration</text>
<text transform="translate(13,424) rotate(-90)">Effect size on Plant biomass</text>
</g>
</svg>
</body></html>
